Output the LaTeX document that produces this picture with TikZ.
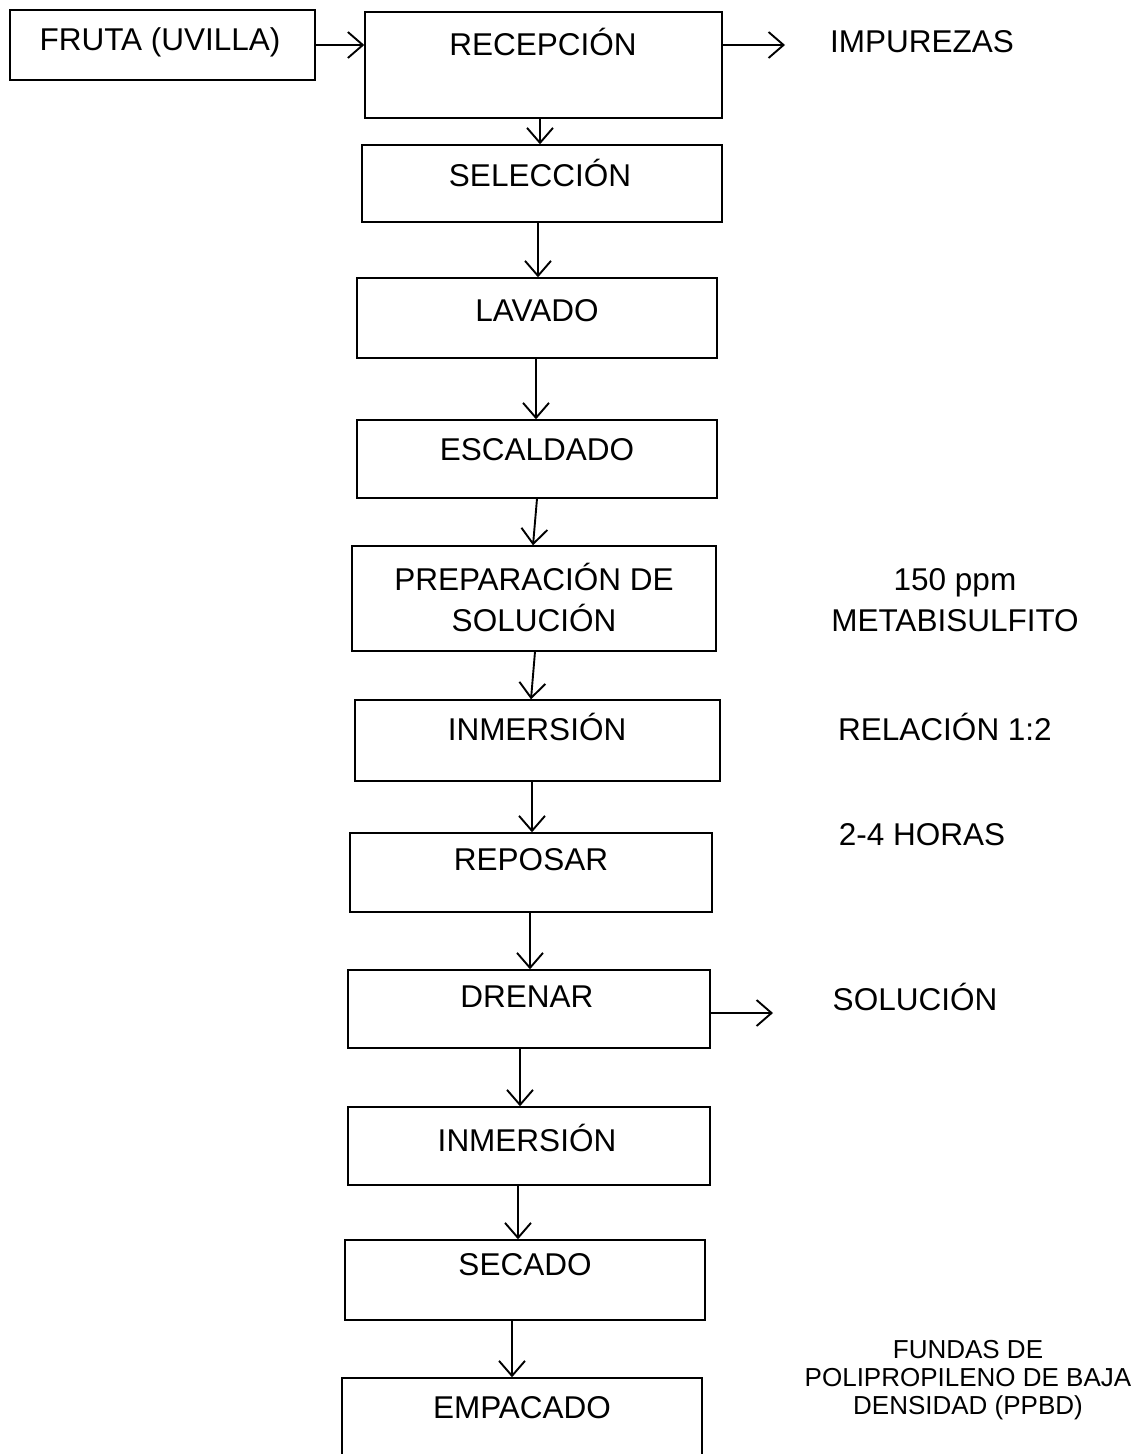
\documentclass[tikz,border=0pt]{standalone}
\usepackage{fontspec}
\setmainfont{Liberation Sans}
\usetikzlibrary{arrows.meta}
\begin{document}
\begin{tikzpicture}[x=1pt,y=-1pt,
  box/.style={draw, line width=1.4pt, inner sep=0pt},
  txt/.style={inner sep=0pt, align=center, font=\fontsize{31.5}{41}\selectfont},
  small/.style={inner sep=0pt, align=center, font=\fontsize{26}{28}\selectfont},
  arr/.style={line width=1.9pt, -{Straight Barb[length=15pt,width=26pt,line width=1.9pt]}}]
\useasboundingbox (0,0) rectangle (1144,1454);
\clip (0,0) rectangle (1144,1454);
% boxes
\node[box, minimum width=305, minimum height=70] (fruta) at (162.5,45) {};
\node[box, minimum width=357, minimum height=106] (rec) at (543.5,65) {};
\node[box, minimum width=360, minimum height=77] (sel) at (542,183.5) {};
\node[box, minimum width=360, minimum height=80] (lav) at (537,318) {};
\node[box, minimum width=360, minimum height=78] (esc) at (537,459) {};
\node[box, minimum width=364, minimum height=105] (prep) at (534,598.5) {};
\node[box, minimum width=365, minimum height=81] (inma) at (537.5,740.5) {};
\node[box, minimum width=362, minimum height=79] (rep) at (531,872.5) {};
\node[box, minimum width=362, minimum height=78] (dren) at (529,1009) {};
\node[box, minimum width=362, minimum height=78] (inmb) at (529,1146) {};
\node[box, minimum width=360, minimum height=80] (sec) at (525,1280) {};
\node[box, minimum width=360, minimum height=92] (emp) at (522,1424) {};
% texts in boxes
\node[txt] (frutaT) at (160,42) {FRUTA (UVILLA)};
\node[txt] (recT) at (543,42) {RECEPCIÓN};
\node[txt] (selT) at (540,173) {SELECCIÓN};
\node[txt] (lavT) at (537,311) {LAVADO};
\node[txt] (escT) at (537,450) {ESCALDADO};
\node[txt] (prepT) at (534,597) {PREPARACIÓN DE\\SOLUCIÓN};
\node[txt] (inmaT) at (537,727) {INMERSIÓN};
\node[txt] (repT) at (531,860) {REPOSAR};
\node[txt] (drenT) at (527,997) {DRENAR};
\node[txt] (inmbT) at (527,1138) {INMERSIÓN};
\node[txt] (secT) at (525,1265) {SECADO};
\node[txt] (empT) at (522,1408) {EMPACADO};
% side texts
\node[txt] (imp) at (922,42) {IMPUREZAS};
\node[txt] (meta) at (955,600) {150 ppm\\METABISULFITO};
\node[txt] (rel) at (945,727) {RELACIÓN 1:2};
\node[txt] (hor) at (922,835) {2-4 HORAS};
\node[txt] (sol) at (915,997) {SOLUCIÓN};
\node[small] (fund) at (968,1380) {FUNDAS DE\\POLIPROPILENO DE BAJA\\DENSIDAD (PPBD)};
% free ends
\coordinate (impEnd) at (785,45);
\coordinate (solEnd) at (773,1013);
% connectors
\draw[arr] (fruta.east) -- ([yshift=20]rec.west);
\draw[arr] ([yshift=20]rec.east) -- (impEnd);
\draw[arr] ([xshift=-3.5]rec.south) -- ([xshift=-2]sel.north);
\draw[arr] ([xshift=-4]sel.south) -- ([xshift=1]lav.north);
\draw[arr] ([xshift=-1]lav.south) -- ([xshift=-1]esc.north);
\draw[arr] (esc.south) -- ([xshift=-1]prep.north);
\draw[arr] ([xshift=1]prep.south) -- ([xshift=-6.5]inma.north);
\draw[arr] ([xshift=-5.5]inma.south) -- ([xshift=1]rep.north);
\draw[arr] ([xshift=-1]rep.south) -- ([xshift=1]dren.north);
\draw[arr] ([yshift=-4]dren.east) -- (solEnd);
\draw[arr] ([xshift=-9]dren.south) -- ([xshift=-9]inmb.north);
\draw[arr] ([xshift=-11]inmb.south) -- ([xshift=-7]sec.north);
\draw[arr] ([xshift=-13]sec.south) -- ([xshift=-10]emp.north);
\end{tikzpicture}
\end{document}
